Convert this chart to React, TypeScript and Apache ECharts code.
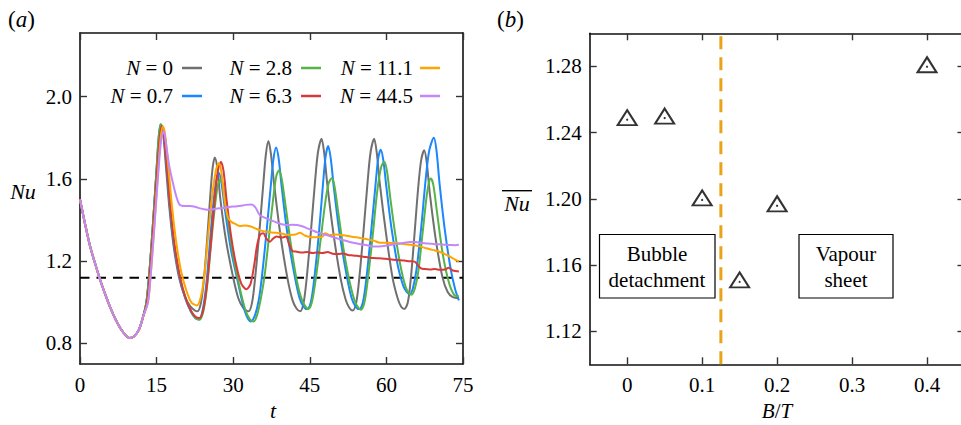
import React, { useEffect, useRef } from 'react';
import * as echarts from 'echarts';

const FONT = 'Liberation Serif';

// ---------- panel (a) ----------
const timeTicks = [0, 15, 30, 45, 60, 75];
const nuTicks = [0.8, 1.2, 1.6, 2.0];
const referenceNu = 1.12;

const commonDecay: number[][] = [[0,1.5],[1,1.38],[2,1.27],[3,1.185],[4,1.105],[5,1.035],[6,0.97],[7,0.915],[8,0.87],[9,0.838],[9.7,0.827],[10.5,0.833],[11.5,0.865],[12.3,0.925]];

const nu0: number[][] = [[13,1.0],[13.5,1.12],[14,1.28],[14.5,1.46],[15,1.64],[15.5,1.8],[15.9,1.862],[16.3,1.82],[16.8,1.67],[17.5,1.46],[18.3,1.28],[19.4,1.12],[20.5,1.03],[21.6,0.98],[22.5,0.96],[23,0.956],
[23.7,1.0],[24.3,1.12],[25,1.34],[25.6,1.55],[26,1.66],[26.4,1.705],[26.9,1.65],[27.5,1.5],[28.6,1.3],[30,1.12],[31,1.02],[32,0.972],[33,0.956],
[33.7,1.0],[34.3,1.12],[35.1,1.336],[35.9,1.578],[36.4,1.72],[36.9,1.785],[37.4,1.72],[38,1.578],[39.2,1.336],[40.6,1.12],[41.6,1.012],[42.4,0.97],[43.1,0.956],
[43.8,1.0],[44.4,1.12],[45.2,1.34],[46,1.58],[46.6,1.73],[47.3,1.796],[47.8,1.73],[48.4,1.58],[49.6,1.34],[51,1.12],[52,1.015],[52.7,0.975],[53.4,0.96],
[54.1,1.0],[54.7,1.12],[55.5,1.34],[56.3,1.58],[56.9,1.73],[57.6,1.796],[58.1,1.73],[58.7,1.58],[59.9,1.34],[61.2,1.12],[62.2,1.02],[62.9,0.978],[63.5,0.967],
[64.2,1.0],[64.8,1.12],[65.5,1.33],[66.2,1.55],[66.8,1.69],[67.4,1.74],[67.9,1.68],[68.5,1.53],[69.7,1.3],[71,1.12],[72,1.05],[73,1.025],[74.2,1.02]];

const nu07: number[][] = [[13,1.0],[13.5,1.12],[14,1.28],[14.5,1.46],[15,1.65],[15.4,1.8],[15.8,1.866],[16.3,1.83],[16.9,1.67],[17.6,1.46],[18.4,1.28],[19.5,1.12],[20.6,1.02],[21.7,0.955],[22.6,0.922],[23.3,0.917],
[24,0.96],[24.7,1.08],[25.4,1.28],[26.1,1.48],[26.7,1.6],[27.2,1.63],[27.7,1.58],[28.5,1.43],[29.6,1.25],[30.9,1.1],[31.9,0.99],[32.7,0.93],[33.5,0.907],
[34.3,0.94],[35,1.01],[35.6,1.12],[36.5,1.336],[37.4,1.578],[37.9,1.7],[38.4,1.753],[38.9,1.7],[39.5,1.56],[40.6,1.336],[42.1,1.12],[43,1.02],[43.8,0.978],[44.5,0.967],
[45.2,1.0],[45.9,1.12],[46.8,1.34],[47.6,1.58],[48.1,1.71],[48.6,1.76],[49.1,1.7],[49.7,1.56],[50.8,1.34],[52.3,1.12],[53.2,1.02],[54,0.978],[54.7,0.967],
[55.4,1.0],[56.1,1.12],[57,1.34],[57.9,1.58],[58.4,1.7],[58.9,1.742],[59.4,1.69],[60,1.56],[61,1.36],[62.3,1.17],[63.3,1.08],[64,1.05],[64.6,1.04],
[65.2,1.07],[65.9,1.16],[66.8,1.36],[67.7,1.6],[68.4,1.74],[69.3,1.8],[69.8,1.74],[70.4,1.58],[71.4,1.36],[72.6,1.16],[73.5,1.06],[74.2,1.01]];

const nu28: number[][] = [[13,1.0],[13.5,1.12],[14,1.28],[14.5,1.46],[15,1.65],[15.4,1.8],[15.8,1.866],[16.4,1.83],[17,1.67],[17.7,1.46],[18.5,1.28],[19.6,1.12],[20.7,1.02],[21.8,0.955],[22.7,0.922],[23.4,0.915],
[24.1,0.95],[24.8,1.06],[25.5,1.24],[26.3,1.44],[27,1.57],[27.6,1.6],[28.1,1.56],[28.8,1.43],[29.9,1.24],[31.2,1.08],[32.3,0.97],[33.2,0.92],[34,0.907],
[34.7,0.94],[35.5,1.03],[36.2,1.14],[37.1,1.34],[38,1.54],[38.5,1.62],[39,1.643],[39.5,1.6],[40.2,1.48],[41.3,1.28],[42.5,1.1],[43.5,1.01],[44.7,0.967],
[45.4,1.0],[46.2,1.12],[47.1,1.3],[48,1.48],[48.7,1.58],[49.3,1.603],[49.8,1.57],[50.5,1.45],[51.6,1.26],[52.8,1.1],[53.9,1.0],[55,0.964],
[55.7,1.0],[56.4,1.12],[57.3,1.32],[58.2,1.54],[59,1.66],[59.6,1.683],[60.1,1.64],[60.8,1.5],[61.8,1.32],[62.9,1.16],[64,1.06],[64.9,1.037],
[65.6,1.07],[66.3,1.16],[67.1,1.34],[67.9,1.52],[68.4,1.59],[68.7,1.602],[69.2,1.57],[69.9,1.44],[71,1.24],[72.2,1.1],[73.3,1.035],[74.2,1.03]];

const nu63: number[][] = [[13.1,1.0],[13.6,1.12],[14.1,1.28],[14.6,1.46],[15.1,1.64],[15.6,1.8],[16,1.858],[16.4,1.82],[17,1.66],[17.7,1.46],[18.5,1.28],[19.6,1.12],[20.7,1.02],[21.8,0.955],[22.7,0.928],[23.4,0.924],
[24.1,0.96],[24.8,1.07],[25.5,1.25],[26.3,1.48],[27,1.64],[27.6,1.683],[28.1,1.64],[28.7,1.5],[29.6,1.32],[30.6,1.18],[31.6,1.09],[32.6,1.064],[33.4,1.09],[34.1,1.18],[34.7,1.28],[35.3,1.33],[35.9,1.336],[36.5,1.31],[37.2,1.295],[37.8,1.31],[38.5,1.32],[39.5,1.315],[40.3,1.32],[41,1.28],[41.6,1.25],[42.3,1.247],[43.5,1.242],[44.5,1.245],[45.5,1.24],[46.5,1.243],[47.5,1.24],[48.5,1.245],[49.5,1.236],[50.5,1.235],[51.5,1.238],[52.5,1.23],[53.5,1.228],[54.5,1.225],[55.5,1.222],[56.5,1.218],[57.5,1.215],[58.5,1.214],[59.5,1.212],[60.5,1.21],[61.5,1.207],[62.5,1.205],[63.5,1.203],[64.5,1.2],[65.5,1.198],[66.2,1.18],[66.8,1.165],[67.5,1.162],[68.5,1.16],[69.5,1.162],[70.5,1.158],[71.5,1.16],[72.2,1.168],[73,1.155],[74.2,1.15]];

const nu111: number[][] = [[13.3,1.0],[13.8,1.12],[14.3,1.28],[14.8,1.46],[15.3,1.64],[15.8,1.8],[16.25,1.856],[16.7,1.81],[17.3,1.66],[18,1.47],[18.8,1.3],[19.8,1.15],[20.8,1.06],[21.8,1.0],[22.9,0.985],[23.6,1.02],[24.3,1.12],[25,1.3],[25.8,1.5],[26.6,1.64],[27.2,1.678],[27.7,1.63],[28.3,1.5],[29,1.41],[29.7,1.39],[30.5,1.38],[31.3,1.371],[32.3,1.374],[33.3,1.37],[34.3,1.36],[35.3,1.35],[36.5,1.343],[37.5,1.34],[38.5,1.338],[39.2,1.336],[40.2,1.33],[41.1,1.328],[42.2,1.33],[43.1,1.338],[44,1.325],[45,1.318],[45.8,1.316],[46.8,1.318],[47.5,1.32],[48,1.336],[49,1.327],[50,1.33],[51,1.328],[52,1.325],[53,1.32],[54.2,1.316],[55.5,1.31],[56.5,1.305],[57.5,1.3],[58.7,1.29],[60,1.29],[61.5,1.288],[63,1.285],[64.5,1.28],[65.3,1.279],[66.5,1.272],[67.5,1.265],[68.5,1.258],[69.5,1.252],[70.5,1.245],[71.1,1.239],[72,1.228],[72.8,1.218],[73.5,1.207],[74.2,1.2]];

const nu445: number[][] = [[13.3,1.0],[13.8,1.12],[14.3,1.28],[14.8,1.45],[15.3,1.62],[15.9,1.79],[16.4,1.835],[16.9,1.76],[17.5,1.66],[18.2,1.58],[18.8,1.52],[19.5,1.475],[20.5,1.468],[21.5,1.468],[22.5,1.465],[23.5,1.457],[24.5,1.452],[25.5,1.45],[26.5,1.455],[27.5,1.458],[28.5,1.46],[29.5,1.465],[30.5,1.466],[31.5,1.47],[32.5,1.474],[33.6,1.476],[34.4,1.46],[35.2,1.424],[36.5,1.408],[37.5,1.398],[38.5,1.388],[39.5,1.38],[40.4,1.376],[41.5,1.377],[42.5,1.376],[43.5,1.37],[44.5,1.36],[45.5,1.35],[46.5,1.34],[47.5,1.333],[48.3,1.327],[49.5,1.318],[50.5,1.31],[51.5,1.303],[52.5,1.296],[53.5,1.29],[54.5,1.285],[55.5,1.281],[56.5,1.276],[57.4,1.271],[58.5,1.272],[59.5,1.274],[60.5,1.278],[61.5,1.282],[62.5,1.285],[63.5,1.29],[64.5,1.293],[65.3,1.295],[66.5,1.29],[67.5,1.287],[68.5,1.285],[69.5,1.283],[70.5,1.282],[71.5,1.28],[72.5,1.279],[73.5,1.278],[74.2,1.28]];

const legendN = ['0', '0.7', '2.8', '6.3', '11.1', '44.5'];
const lineColors = ['#707070', '#1a87ff', '#55b347', '#d83a3a', '#ffa500', '#c287fb'];
const seriesData = [nu0, nu07, nu28, nu63, nu111, nu445];

// ---------- panel (b) ----------
const btTicks = [0, 0.1, 0.2, 0.3, 0.4];
const meanNuTicks = [1.12, 1.16, 1.2, 1.24, 1.28];
const regimeBoundary = 0.125;
const ratioBT = [0, 0.05, 0.1, 0.15, 0.2, 0.4];
const meanNu = [1.249, 1.25, 1.2005, 1.151, 1.197, 1.281];

const axisLine = { show: true, onZero: false, lineStyle: { color: '#111', width: 1.6 } };
const tick = { show: true, inside: true, length: 7, lineStyle: { color: '#333', width: 1.4 } };
const label = { color: '#000', fontFamily: FONT, fontSize: 21 };

export default function App() {
  const ref = useRef<HTMLDivElement>(null);
  useEffect(() => {
    if (!ref.current) return;
    const chart = echarts.init(ref.current, null, { renderer: 'svg' });

    const colRight = [173, 292, 413];
    const lineStart = [182, 301, 420];
    const rowY = [68, 96];
    const legendGraphics: any[] = [];
    legendN.forEach((n, i) => {
      const c = Math.floor(i / 2);
      const r = i % 2;
      legendGraphics.push({
        type: 'text', x: colRight[c], y: rowY[r],
        style: {
          text: `{i|N} = ${n}`,
          rich: { i: { fontStyle: 'italic', fontFamily: FONT, fontSize: 21, fill: '#000' } },
          fontFamily: FONT, fontSize: 21, fill: '#000', align: 'right', verticalAlign: 'middle',
        },
      });
      legendGraphics.push({
        type: 'line',
        shape: { x1: lineStart[c], y1: rowY[r], x2: lineStart[c] + 20, y2: rowY[r] },
        style: { stroke: lineColors[i], lineWidth: 2.5 },
      });
    });

    const textStyle = (t: string, x: number, y: number, size: number, align = 'center') => ({
      type: 'text', x, y,
      style: {
        text: t,
        rich: { i: { fontStyle: 'italic', fontFamily: FONT, fontSize: size, fill: '#000' } },
        fontFamily: FONT, fontSize: size, fill: '#000', align, verticalAlign: 'middle',
      },
    });

    const option: any = {
      animation: false,
      textStyle: { fontFamily: FONT },
      grid: [
        { left: 80, top: 33, width: 383, height: 331 },
        { left: 589.7, top: 33.3, width: 374.8, height: 331 },
      ],
      xAxis: [
        { gridIndex: 0, type: 'value', min: 0, max: 75, interval: 15, position: 'bottom',
          axisLine, axisTick: tick, splitLine: { show: false },
          axisLabel: { ...label, margin: 10, customValues: timeTicks } },
        { gridIndex: 0, type: 'value', min: 0, max: 75, interval: 15, position: 'top',
          axisLine, axisTick: tick, splitLine: { show: false }, axisLabel: { show: false } },
        { gridIndex: 1, type: 'value', min: -0.05, max: 0.45, position: 'bottom',
          axisLine, axisTick: { ...tick, customValues: btTicks }, splitLine: { show: false },
          axisLabel: { ...label, margin: 10, customValues: btTicks, formatter: (v: number) => (v === 0 ? '0' : v.toFixed(1)) } },
        { gridIndex: 1, type: 'value', min: -0.05, max: 0.45, position: 'top',
          axisLine, axisTick: { ...tick, customValues: btTicks }, splitLine: { show: false }, axisLabel: { show: false } },
      ],
      yAxis: [
        { gridIndex: 0, type: 'value', min: 0.7, max: 2.31, position: 'left',
          axisLine, axisTick: { ...tick, customValues: nuTicks }, splitLine: { show: false },
          axisLabel: { ...label, margin: 8, customValues: nuTicks, formatter: (v: number) => v.toFixed(1) } },
        { gridIndex: 0, type: 'value', min: 0.7, max: 2.31, position: 'right',
          axisLine, axisTick: { ...tick, customValues: nuTicks }, splitLine: { show: false }, axisLabel: { show: false } },
        { gridIndex: 1, type: 'value', min: 1.1, max: 1.3, position: 'left',
          axisLine, axisTick: { ...tick, customValues: meanNuTicks }, splitLine: { show: false },
          axisLabel: { ...label, margin: 8, customValues: meanNuTicks, formatter: (v: number) => v.toFixed(2) } },
        { gridIndex: 1, type: 'value', min: 1.1, max: 1.3, position: 'right',
          axisLine, axisTick: { ...tick, customValues: meanNuTicks }, splitLine: { show: false }, axisLabel: { show: false } },
      ],
      series: [
        {
          type: 'line', xAxisIndex: 0, yAxisIndex: 0, showSymbol: false, silent: true,
          data: [[0, referenceNu], [75, referenceNu]],
          lineStyle: { color: '#000', width: 2, type: [9.5, 7] }, z: 1,
        },
        ...seriesData.map((d, i) => ({
          name: 'N = ' + legendN[i], type: 'line', xAxisIndex: 0, yAxisIndex: 0,
          showSymbol: false, smooth: 0.3, silent: true,
          data: commonDecay.concat(d),
          lineStyle: { color: lineColors[i], width: 2 }, z: 2 + i,
        })),
        {
          type: 'line', xAxisIndex: 2, yAxisIndex: 2, showSymbol: false, silent: true,
          data: [[regimeBoundary, 1.1], [regimeBoundary, 1.3]],
          lineStyle: { color: '#e8a317', width: 3, type: [13, 8] }, z: 2,
        },
        {
          type: 'scatter', xAxisIndex: 2, yAxisIndex: 2, symbol: 'triangle', symbolSize: [19, 15],
          data: ratioBT.map((b, i) => [b, meanNu[i]]),
          itemStyle: { color: 'rgba(255,255,255,0)', borderColor: '#000', borderWidth: 2 }, z: 5,
        },
        {
          type: 'scatter', xAxisIndex: 2, yAxisIndex: 2, symbol: 'circle', symbolSize: 2.2,
          symbolOffset: [0, 2],
          data: ratioBT.map((b, i) => [b, meanNu[i]]),
          itemStyle: { color: '#000' }, z: 6,
        },
      ],
      graphic: [
        textStyle('({i|a})', 8, 19, 23, 'left'),
        textStyle('({i|b})', 497, 19, 23, 'left'),
        textStyle('{i|Nu}', 23, 191.5, 22),
        textStyle('{i|t}', 273, 410, 22),
        textStyle('{i|Nu}', 517, 203, 22),
        { type: 'line', shape: { x1: 502, y1: 190.7, x2: 532, y2: 190.7 }, style: { stroke: '#000', lineWidth: 1.4 } },
        textStyle('{i|B}/{i|T}', 777, 411, 21),
        ...legendGraphics,
        { type: 'rect', shape: { x: 599.5, y: 234.5, width: 115.5, height: 63.5 }, style: { fill: '#fff', stroke: '#000', lineWidth: 1.2 }, z: 10 },
        { type: 'text', x: 657, y: 267, z: 11, style: { text: 'Bubble\ndetachment', fontFamily: FONT, fontSize: 21, lineHeight: 26, fill: '#000', align: 'center', verticalAlign: 'middle' } },
        { type: 'rect', shape: { x: 799, y: 234.5, width: 94, height: 63.5 }, style: { fill: '#fff', stroke: '#000', lineWidth: 1.2 }, z: 10 },
        { type: 'text', x: 846, y: 267, z: 11, style: { text: 'Vapour\nsheet', fontFamily: FONT, fontSize: 21, lineHeight: 26, fill: '#000', align: 'center', verticalAlign: 'middle' } },
      ],
    };
    chart.setOption(option);
    return () => chart.dispose();
  }, []);

  return (
    <div style={{ position: 'fixed', left: 0, top: 0, width: 961, height: 425, overflow: 'hidden', background: '#fff', fontFamily: FONT }}>
      <div ref={ref} style={{ width: 975, height: 425, fontFamily: FONT }} />
    </div>
  );
}
